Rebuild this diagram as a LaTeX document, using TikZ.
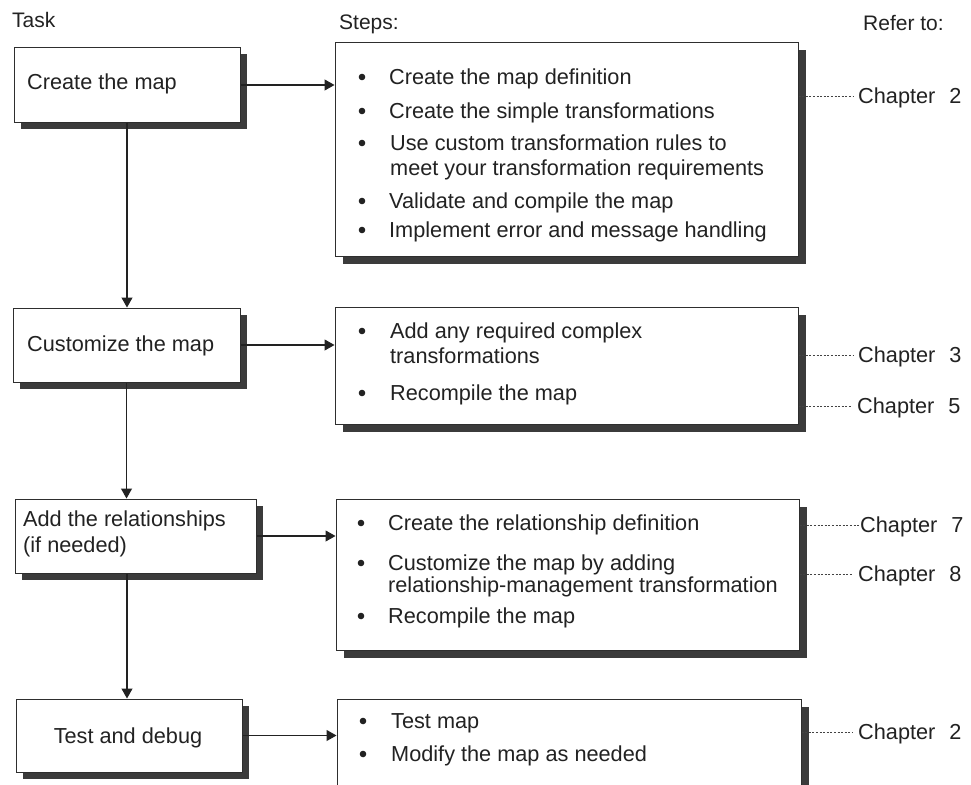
\documentclass[tikz,border=0pt]{standalone}
\usepackage{fontspec}
\setmainfont{Liberation Sans}
\usetikzlibrary{arrows.meta,shadows}
\definecolor{ink}{HTML}{222222}
\definecolor{shade}{HTML}{3B3B3B}
\definecolor{edge}{HTML}{2E2E2E}
\newcommand\bodyfnt{\fontsize{21.7pt}{26pt}\selectfont}
\newcommand\headfnt{\fontsize{21pt}{25pt}\selectfont}
\begin{document}
\begin{tikzpicture}[x=1pt,y=-1pt,
  taskbox/.style={draw=edge, line width=1pt, fill=white, inner sep=0,
    drop shadow={shadow xshift=6.5pt, shadow yshift=-6.5pt, fill=shade, opacity=1}},
  stepbox/.style={draw=edge, line width=1pt, fill=white, inner sep=0,
    drop shadow={shadow xshift=7.5pt, shadow yshift=-7.5pt, fill=shade, opacity=1}},
  txt/.style={anchor=base west, inner sep=0, text=ink, font=\bodyfnt},
  head/.style={anchor=base west, inner sep=0, text=ink, font=\headfnt},
  chap/.style={anchor=base west, inner sep=0, text=ink, font=\bodyfnt, text height=14pt, text depth=0pt},
  arr/.style={draw=ink, line width=1.1pt, -{Triangle[length=10pt,width=11pt]}},
  refline/.style={draw=ink!85, line width=0.9pt, dash pattern=on 2pt off 1.6pt, shorten >=5pt},
  bul/.style={fill=ink}
]
\clip (0,0) rectangle (971,784);
\fill[white] (0,0) rectangle (971,784);

% headers
\node[head] (h1) at (12,28) {Task};
\node[head] (h2) at (339,30) {Steps:};
\node[head] (h3) at (863,31) {Refer to:};

% task boxes
\node[taskbox, minimum width=226pt, minimum height=74pt] (b1) at (127,85) {};
\node[taskbox, minimum width=227pt, minimum height=74pt] (b2) at (126.5,345) {};
\node[taskbox, minimum width=241pt, minimum height=74pt] (b3) at (135.5,536) {};
\node[taskbox, minimum width=226pt, minimum height=73pt] (b4) at (129,735.5) {};

\node[txt] (t1) at (27,89) {Create the map};
\node[txt] (t2) at (27,351) {Customize the map};
\node[txt] (t3a) at (23,526) {Add the relationships};
\node[txt] (t3b) at (23,552) {(if needed)};
\node[txt, anchor=base] (t4) at (128,743) {Test and debug};

% step boxes
\node[stepbox, minimum width=463pt, minimum height=213pt] (s1) at (566.5,149.5) {};
\node[stepbox, minimum width=463pt, minimum height=117pt] (s2) at (566.5,365.5) {};
\node[stepbox, minimum width=463pt, minimum height=151pt] (s3) at (567.5,574.5) {};
\node[stepbox, minimum width=464pt, minimum height=131pt] (s4) at (569,764.5) {};

% steps 1
\fill[bul] (362,77) circle (3.3pt);
\node[txt] (s1a) at (389,84) {Create the map definition};
\fill[bul] (362,111) circle (3.3pt);
\node[txt] (s1b) at (389,118) {Create the simple transformations};
\fill[bul] (362,143) circle (3.3pt);
\node[txt] (s1c) at (390,150) {Use custom transformation rules to};
\node[txt] (s1d) at (390,175) {meet your transformation requirements};
\fill[bul] (362,201) circle (3.3pt);
\node[txt] (s1e) at (389,208) {Validate and compile the map};
\fill[bul] (362,230) circle (3.3pt);
\node[txt] (s1f) at (389,237) {Implement error and message handling};

% steps 2
\fill[bul] (362,331) circle (3.3pt);
\node[txt] (s2a) at (390,338) {Add any required complex};
\node[txt] (s2b) at (390,363) {transformations};
\fill[bul] (362,393) circle (3.3pt);
\node[txt] (s2c) at (390,400) {Recompile the map};

% steps 3
\fill[bul] (361,523) circle (3.3pt);
\node[txt] (s3a) at (388,530) {Create the relationship definition};
\fill[bul] (361,563) circle (3.3pt);
\node[txt] (s3b) at (388,570) {Customize the map by adding};
\node[txt] (s3c) at (388,592) {relationship-management transformation};
\fill[bul] (361,616) circle (3.3pt);
\node[txt] (s3d) at (388,623) {Recompile the map};

% steps 4
\fill[bul] (363,721) circle (3.3pt);
\node[txt] (s4a) at (391,728) {Test map};
\fill[bul] (363,754) circle (3.3pt);
\node[txt] (s4b) at (391,761) {Modify the map as needed};

% chapters
\node[chap] (c1) at (858,103) {Chapter\hspace{14pt}2};
\node[chap] (c2) at (858,362) {Chapter\hspace{14pt}3};
\node[chap] (c3) at (857,413) {Chapter\hspace{14pt}5};
\node[chap] (c4) at (860,532) {Chapter\hspace{14pt}7};
\node[chap] (c5) at (858,581) {Chapter\hspace{14pt}8};
\node[chap] (c6) at (858,739) {Chapter\hspace{14pt}2};

\draw[refline] (s1.east |- c1.west) -- (c1.west);
\draw[refline] (s2.east |- c2.west) -- (c2.west);
\draw[refline] (s2.east |- c3.west) -- (c3.west);
\draw[refline, shorten >=1pt] (s3.east |- c4.west) -- (c4.west);
\draw[refline] (s3.east |- c5.west) -- (c5.west);
\draw[refline] (s4.east |- c6.west) -- (c6.west);

% horizontal arrows
\draw[arr] (b1.east) -- (b1.east -| s1.west);
\draw[arr] (b2.east) -- (b2.east -| s2.west);
\draw[arr] (b3.east) -- (b3.east -| s3.west);
\draw[arr] (b4.east) -- (b4.east -| s4.west);

% vertical arrows
\draw[arr] (b1.south) -- (b1.south |- b2.north);
\draw[arr] (b2.south) -- (b2.south |- b3.north);
\draw[arr] (b3.south -| b1.south) -- (b4.north -| b1.south);
\end{tikzpicture}
\end{document}
